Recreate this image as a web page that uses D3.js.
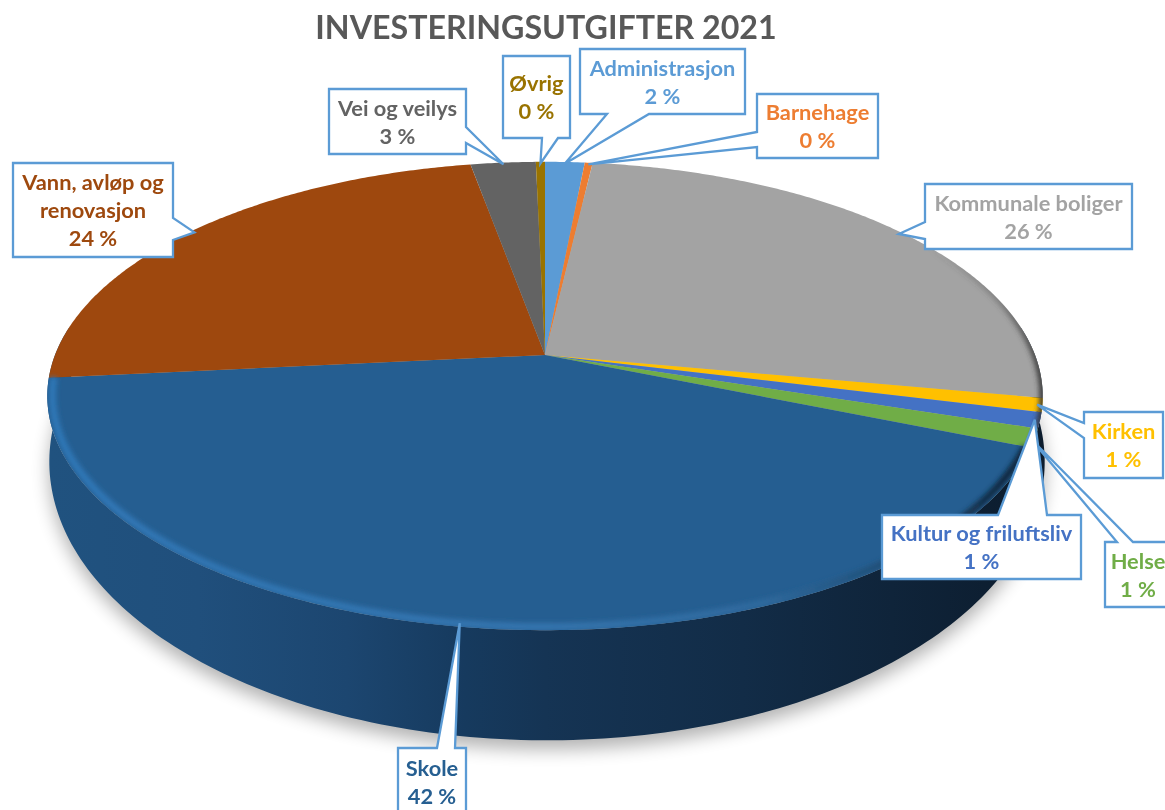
<!DOCTYPE html>
<html><head><meta charset="utf-8">
<style>html,body{margin:0;padding:0;background:#fff;overflow:hidden}svg{display:block}text{font-family:Lato,"Open Sans",sans-serif;font-weight:700}</style>
<script src="https://cdn.jsdelivr.net/npm/d3@7/dist/d3.min.js"></script>
</head><body><div id="c"></div>
<script>
const title = "INVESTERINGSUTGIFTER 2021";
const categories = ["Administrasjon","Barnehage","Kommunale boliger","Kirken","Kultur og friluftsliv","Helse","Skole","Vann, avløp og renovasjon","Vei og veilys","Øvrig"];
const values = [1.52,0.3,26.1,0.95,1.08,1.25,42.2,23.7,2.5,0.35];
const percentLabels = ["2 %","0 %","26 %","1 %","1 %","1 %","42 %","24 %","3 %","0 %"];
const colors = ["#5b9bd5","#ed7d31","#a3a3a3","#ffc000","#4472c4","#70ad47","#255e91","#9e480e","#636363","#997300"];
// callout layout: box [x0,y0,x1,y1], side the pointer leaves from, pointer base [a,b] along that side, label lines
const calloutBoxes = [[580,49,745,114],[757,94,878,158],[925,184,1132,249],[1084,412,1163,478],[882,515,1081,579],[1105,542,1180,607],[398,748,466,816],[13,163,173,257],[329,89,466,154],[503,56,570,138]];
const calloutSides = ["bottom","left","left","left","top","top","top","right","right","bottom"];
const calloutBases = [[607,649],[132,147],[222,239],[423,438],[998,1047],[1117,1133],[437,455],[218,240],[127,143],[542,558]];
const labelLines = [["Administrasjon"],["Barnehage"],["Kommunale boliger"],["Kirken"],["Kultur og friluftsliv"],["Helse"],["Skole"],["Vann, avløp og","renovasjon"],["Vei og veilys"],["Øvrig"]];

const W=1165,H=810;
const cx=545,cy=355,A=490,B=227,K=0.175;
const cx2=547,cy2=413,A2=490,B2=270;
const svg=d3.select("#c").append("svg").attr("width",W).attr("height",H).attr("viewBox",[0,0,W,H]);
const defs=svg.append("defs");
const blur=(id,s)=>defs.append("filter").attr("id",id).attr("x","-20%").attr("y","-20%").attr("width","140%").attr("height","140%").append("feGaussianBlur").attr("stdDeviation",s);
blur("bShadow",9);blur("bRim",2.4);blur("bRim2",2.5);blur("bSoft",0.45);

const top3=(a,r=1)=>{const u=Math.sin(a)*r,v=-Math.cos(a)*r,d=1-K*v;return [cx+A*u/d,cy+B*v/d];};
const bot3=(a)=>{const u=Math.sin(a),v=-Math.cos(a),d=1-K*v;return [cx2+A2*u/d,cy2+B2*v/d];};
const sweep=(a0,a1,n=1)=>{const c=Math.max(2,Math.ceil(Math.abs(a1-a0)/(Math.PI/180)*n)+1);return d3.range(c).map(i=>a0+(a1-a0)*i/(c-1));};
const line=d3.line();
const pie=d3.pie().sort(null).value(d=>d)(values);
const TAU=Math.PI*2;

function grad(id,x0,x1,stops){const g=defs.append("linearGradient").attr("id",id).attr("gradientUnits","userSpaceOnUse").attr("x1",x0).attr("x2",x1).attr("y1",0).attr("y2",0);
 stops.forEach(s=>g.append("stop").attr("offset",s[0]).attr("stop-color",s[1]).attr("stop-opacity",s[2]===undefined?1:s[2]));}
grad("wallG",50,1040,[[0,"#20527f"],[0.15,"#204f7c"],[0.3,"#1c4670"],[0.42,"#163a5e"],[0.5,"#153454"],[0.7,"#122c47"],[0.85,"#0f243a"],[1,"#0c1c2d"]]);
grad("rimG",47,1040,[[0,"#2f78b8"],[0.5,"#3676b0"],[0.72,"#2f6a9e"],[0.86,"#1e4a70"],[0.95,"#102a42"],[1,"#0d2033"]]);
grad("greyRim",930,1045,[[0,"#444",0],[0.6,"#444",0.35],[1,"#333",0.95]]);

const ringTop=line(sweep(0,TAU).map(a=>top3(a)))+"Z";
defs.append("clipPath").attr("id","topClip").append("path").attr("d",ringTop);

// shadow
svg.append("path").attr("d",line(sweep(0,TAU).map(bot3))+"Z").attr("transform","translate(0,9)").attr("fill","#000").attr("opacity",0.3).attr("filter","url(#bShadow)");
// wall
const wallPts=sweep(Math.PI*0.46,Math.PI*1.54).map(a=>top3(a)).concat(sweep(Math.PI*1.54,Math.PI*0.46).map(bot3));
svg.append("path").attr("class","wall").attr("d",line(wallPts)+"Z").attr("fill","url(#wallG)");
// top surface slices
svg.append("g").selectAll("path").data(pie).join("path")
 .attr("d",d=>line([[cx,cy]].concat(sweep(d.startAngle,d.endAngle,2).map(a=>top3(a))))+"Z")
 .attr("fill",(d,i)=>colors[i]);
// bevel
const bevel=svg.append("g").attr("clip-path","url(#topClip)");
const sk=pie[6];
bevel.append("path").attr("d",line(sweep(sk.startAngle,sk.endAngle,2).map(a=>top3(a,0.99)))).attr("fill","none").attr("stroke","url(#rimG)").attr("stroke-width",7).attr("filter","url(#bRim)");
bevel.append("path").attr("d",line(sweep(pie[2].startAngle+0.4,pie[5].endAngle,2).map(a=>top3(a,1)))).attr("fill","none").attr("stroke","url(#greyRim)").attr("stroke-width",7).attr("filter","url(#bRim2)");

// callouts
const outline=(b,side,base,tip)=>{const [x0,y0,x1,y1]=b,[p,q]=base;
 const pts=[[x0,y0]];
 if(side==="top")pts.push([p,y0],tip,[q,y0]);
 pts.push([x1,y0]);
 if(side==="right")pts.push([x1,p],tip,[x1,q]);
 pts.push([x1,y1]);
 if(side==="bottom")pts.push([q,y1],tip,[p,y1]);
 pts.push([x0,y1]);
 if(side==="left")pts.push([x0,q],tip,[x0,p]);
 return line(pts)+"Z";};
const order=[6,7,8,9,0,1,2,5,3,4];
const gc=svg.append("g");
order.forEach(i=>{
 const d=pie[i],mid=(d.startAngle+d.endAngle)/2,tip=top3(mid,0.99);
 const b=calloutBoxes[i];
 gc.append("path").attr("d",outline(b,calloutSides[i],calloutBases[i],tip)).attr("fill","#fff").attr("stroke","#5b9bd5").attr("stroke-width",2.3).attr("stroke-linejoin","miter");
 const lines=labelLines[i].concat([percentLabels[i]]);
 const mx=(b[0]+Math.min(b[2],1163))/2;
 const lh=28;
 const y0=(b[1]+b[3])/2-(lines.length-1)*lh/2+8;
 const t=gc.append("text").attr("text-anchor","middle").attr("fill",colors[i]).attr("font-size",21.8).attr("filter","url(#bSoft)");
 lines.forEach((s,k)=>t.append("tspan").attr("x",i===5?1138:mx).attr("y",y0+k*lh).text(s));
});
svg.append("text").attr("x",546).attr("y",38.5).attr("text-anchor","middle").attr("fill","#595959").attr("font-size",32.2).attr("filter","url(#bSoft)").text(title);
</script></body></html>
